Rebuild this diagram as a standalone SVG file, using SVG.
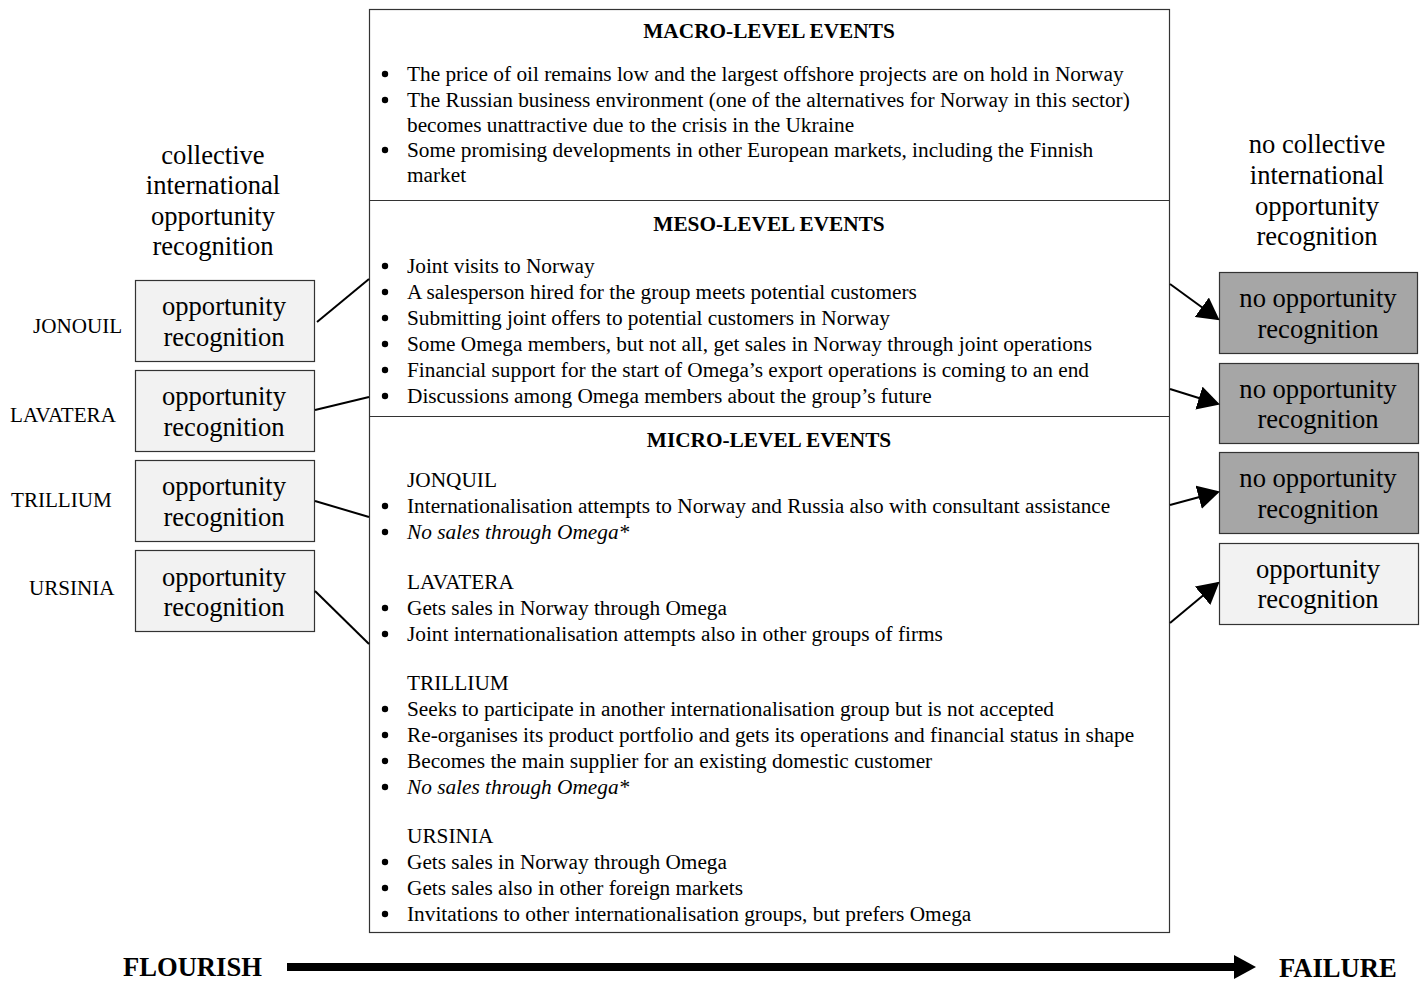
<svg xmlns="http://www.w3.org/2000/svg" width="1427" height="983" viewBox="0 0 1427 983">
<style>
text{font-family:"Liberation Serif","Times New Roman",serif;fill:#000}
.t{font-size:21.3px}
.h{font-size:21.3px;font-weight:bold;text-anchor:middle}
.big{font-size:26.6px;text-anchor:middle}
.lab{font-size:21.1px}
.bw{font-size:26.6px;font-weight:bold}
.it{font-style:italic}
.lb{fill:#f2f2f2;stroke:#333;stroke-width:1.2}
.db{fill:#a6a6a6;stroke:#333;stroke-width:1.2}
.ln{stroke:#000;stroke-width:2;fill:none}
</style>
<defs>
<circle id="bu" r="3.2" fill="#000"/>
<marker id="ah2" markerWidth="22" markerHeight="24" refX="20" refY="12" orient="auto" markerUnits="userSpaceOnUse" viewBox="0 0 22 24"><path d="M0,0 L22,12 L0,24 z" fill="#000"/></marker>
</defs>
<rect width="1427" height="983" fill="#fff"/>

<g id="events">
<rect x="369.5" y="9.5" width="800" height="923" fill="#fff" stroke="#333" stroke-width="1.2"/>
<line x1="369.5" y1="200.5" x2="1169.5" y2="200.5" stroke="#333" stroke-width="1.2"/>
<line x1="369.5" y1="416.5" x2="1169.5" y2="416.5" stroke="#333" stroke-width="1.2"/>
<g id="bullets">
<use href="#bu" x="385" y="74"/><use href="#bu" x="385" y="100"/><use href="#bu" x="385" y="150"/>
<use href="#bu" x="385" y="266"/><use href="#bu" x="385" y="292"/><use href="#bu" x="385" y="318"/>
<use href="#bu" x="385" y="344"/><use href="#bu" x="385" y="370"/><use href="#bu" x="385" y="396"/>
<use href="#bu" x="385" y="506"/><use href="#bu" x="385" y="532"/>
<use href="#bu" x="385" y="608"/><use href="#bu" x="385" y="634"/>
<use href="#bu" x="385" y="709"/><use href="#bu" x="385" y="735"/><use href="#bu" x="385" y="761"/><use href="#bu" x="385" y="787"/>
<use href="#bu" x="385" y="862"/><use href="#bu" x="385" y="888"/><use href="#bu" x="385" y="914"/>
</g>
<text class="h" x="769" y="38">MACRO-LEVEL EVENTS</text>
<g class="t">
<text x="407" y="81">The price of oil remains low and the largest offshore projects are on hold in Norway</text>
<text x="407" y="107">The Russian business environment (one of the alternatives for Norway in this sector)</text>
<text x="407" y="132">becomes unattractive due to the crisis in the Ukraine</text>
<text x="407" y="157">Some promising developments in other European markets, including the Finnish</text>
<text x="407" y="182">market</text>
</g>
<text class="h" x="769" y="231">MESO-LEVEL EVENTS</text>
<g class="t">
<text x="407" y="273">Joint visits to Norway</text>
<text x="407" y="299">A salesperson hired for the group meets potential customers</text>
<text x="407" y="325">Submitting joint offers to potential customers in Norway</text>
<text x="407" y="351">Some Omega members, but not all, get sales in Norway through joint operations</text>
<text x="407" y="377">Financial support for the start of Omega’s export operations is coming to an end</text>
<text x="407" y="403">Discussions among Omega members about the group’s future</text>
</g>
<text class="h" x="769" y="447">MICRO-LEVEL EVENTS</text>
<g class="t">
<text x="407" y="487">JONQUIL</text>
<text x="407" y="513">Internationalisation attempts to Norway and Russia also with consultant assistance</text>
<text class="it" x="407" y="539">No sales through Omega*</text>
<text x="407" y="589">LAVATERA</text>
<text x="407" y="615">Gets sales in Norway through Omega</text>
<text x="407" y="641">Joint internationalisation attempts also in other groups of firms</text>
<text x="407" y="690">TRILLIUM</text>
<text x="407" y="716">Seeks to participate in another internationalisation group but is not accepted</text>
<text x="407" y="742">Re-organises its product portfolio and gets its operations and financial status in shape</text>
<text x="407" y="768">Becomes the main supplier for an existing domestic customer</text>
<text class="it" x="407" y="794">No sales through Omega*</text>
<text x="407" y="843">URSINIA</text>
<text x="407" y="869">Gets sales in Norway through Omega</text>
<text x="407" y="895">Gets sales also in other foreign markets</text>
<text x="407" y="921">Invitations to other internationalisation groups, but prefers Omega</text>
</g>
</g>

<g id="left-title">
<text class="big" x="213" y="164">collective</text>
<text class="big" x="213" y="194">international</text>
<text class="big" x="213" y="225">opportunity</text>
<text class="big" x="213" y="255">recognition</text>
</g>
<g id="right-title">
<text class="big" x="1317" y="153">no collective</text>
<text class="big" x="1317" y="184">international</text>
<text class="big" x="1317" y="215">opportunity</text>
<text class="big" x="1317" y="245">recognition</text>
</g>

<g id="jonouil">
<text class="lab" x="33" y="333">JONOUIL</text>
<rect class="lb" x="135.5" y="280.5" width="179" height="81"/>
<text class="big" x="224" y="315">opportunity</text>
<text class="big" x="224" y="346">recognition</text>
</g>
<g id="lavatera">
<text class="lab" x="10" y="422">LAVATERA</text>
<rect class="lb" x="135.5" y="370.5" width="179" height="81"/>
<text class="big" x="224" y="405">opportunity</text>
<text class="big" x="224" y="436">recognition</text>
</g>
<g id="trillium">
<text class="lab" x="11" y="507">TRILLIUM</text>
<rect class="lb" x="135.5" y="460.5" width="179" height="81"/>
<text class="big" x="224" y="495">opportunity</text>
<text class="big" x="224" y="526">recognition</text>
</g>
<g id="ursinia">
<text class="lab" x="29" y="595">URSINIA</text>
<rect class="lb" x="135.5" y="550.5" width="179" height="81"/>
<text class="big" x="224" y="586">opportunity</text>
<text class="big" x="224" y="616">recognition</text>
</g>

<g id="out1">
<rect class="db" x="1219.5" y="272.5" width="198" height="81"/>
<text class="big" x="1318" y="307">no opportunity</text>
<text class="big" x="1318" y="338">recognition</text>
</g>
<g id="out2">
<rect class="db" x="1219.5" y="363.5" width="199" height="80"/>
<text class="big" x="1318" y="398">no opportunity</text>
<text class="big" x="1318" y="428">recognition</text>
</g>
<g id="out3">
<rect class="db" x="1219.5" y="452.5" width="199" height="81"/>
<text class="big" x="1318" y="487">no opportunity</text>
<text class="big" x="1318" y="518">recognition</text>
</g>
<g id="out4">
<rect class="lb" x="1219.5" y="543.5" width="199" height="81"/>
<text class="big" x="1318" y="578">opportunity</text>
<text class="big" x="1318" y="608">recognition</text>
</g>

<g id="connectors">
<line class="ln" x1="317" y1="322" x2="369" y2="279"/>
<line class="ln" x1="315" y1="410" x2="369" y2="397"/>
<line class="ln" x1="315" y1="501" x2="369" y2="517"/>
<line class="ln" x1="315" y1="591" x2="369" y2="644"/>
<line class="ln" x1="1170" y1="284" x2="1218" y2="319" marker-end="url(#ah2)"/>
<line class="ln" x1="1170" y1="389" x2="1218" y2="404" marker-end="url(#ah2)"/>
<line class="ln" x1="1170" y1="505" x2="1218" y2="492" marker-end="url(#ah2)"/>
<line class="ln" x1="1170" y1="623" x2="1218" y2="583" marker-end="url(#ah2)"/>
</g>

<g id="scale">
<text class="bw" x="123" y="976">FLOURISH</text>
<line x1="287" y1="967" x2="1236" y2="967" stroke="#000" stroke-width="8"/>
<path d="M1234,955 L1256,967 L1234,979 z" fill="#000"/>
<text class="bw" x="1279" y="977">FAILURE</text>
</g>
</svg>
